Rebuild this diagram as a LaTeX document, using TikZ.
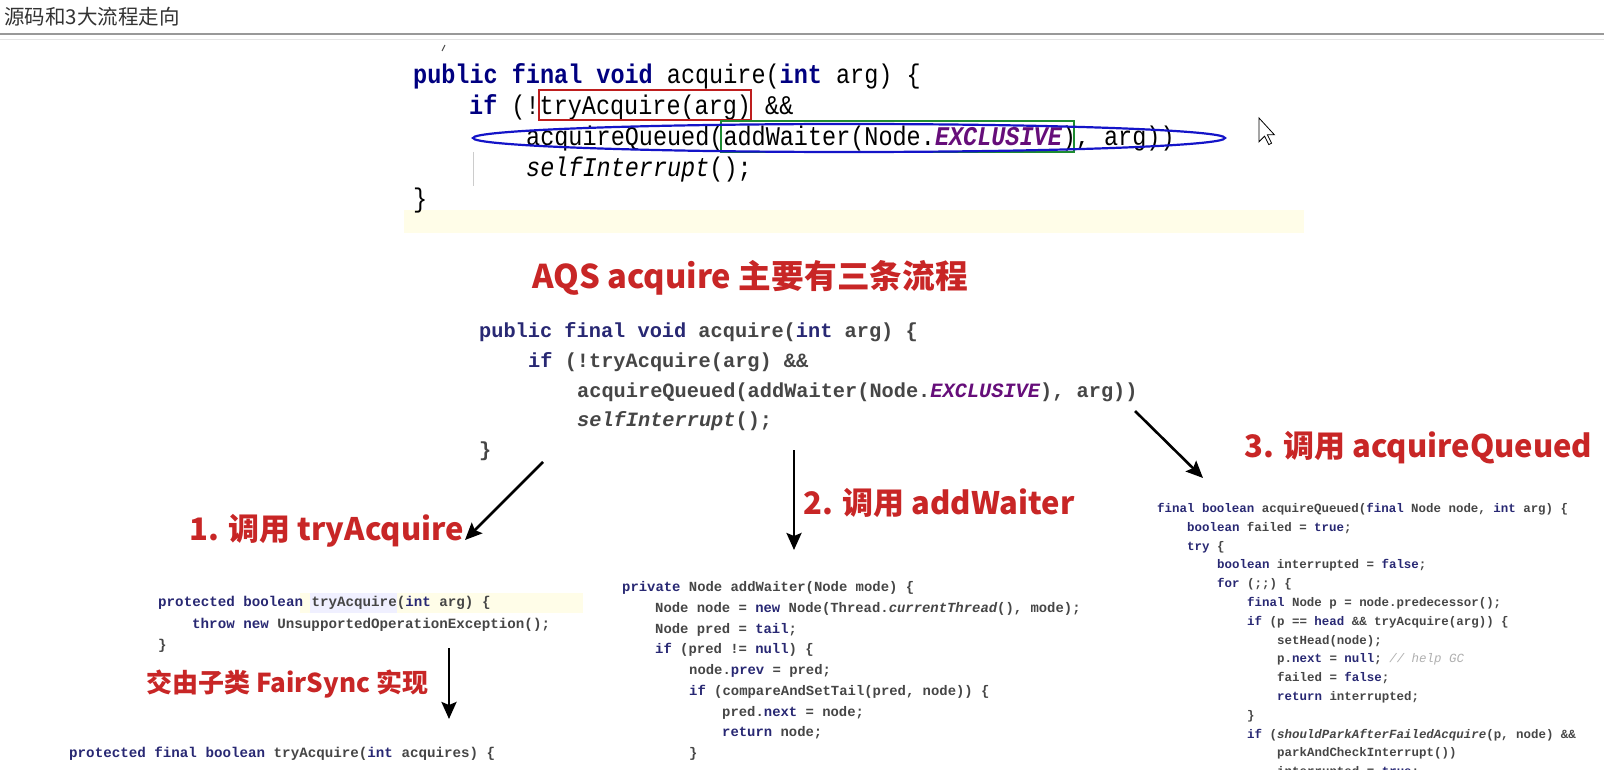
\documentclass[tikz,border=0pt]{standalone}
\usepackage{fontspec}
\usetikzlibrary{arrows.meta}
\newfontfamily\cjk{Noto Sans CJK SC}
\newfontfamily\ideMono[FakeStretch=0.87]{Liberation Mono}
\newfontfamily\slideMono{Liberation Mono}
\definecolor{idekw}{RGB}{0,0,128}
\definecolor{idecon}{RGB}{102,14,122}
\definecolor{slidekw}{RGB}{40,40,115}
\definecolor{slidetxt}{RGB}{70,70,70}
\definecolor{slidecmt}{RGB}{175,175,175}
\definecolor{flowred}{RGB}{200,38,38}
\definecolor{boxred}{RGB}{190,30,30}
\definecolor{boxgreen}{RGB}{30,140,50}
\definecolor{ringblue}{RGB}{20,20,200}
\definecolor{paleyellow}{RGB}{255,253,232}
\newcommand{\jkw}[1]{{\bfseries\color{idekw}#1}}
\newcommand{\jcon}[1]{{\bfseries\itshape\color{idecon}#1}}
\newcommand{\jit}[1]{{\itshape #1}}
\newcommand{\skw}[1]{{\color{slidekw}#1}}
\newcommand{\scmt}[1]{{\mdseries\itshape\color{slidecmt}#1}}
\tikzset{
  idecode/.style={anchor=base west,inner sep=0pt,font=\ideMono\fontsize{27}{27}\selectfont},
  bigcode/.style={anchor=base west,inner sep=0pt,text=slidetxt,font=\slideMono\bfseries\fontsize{20.3}{20.3}\selectfont},
  smallcode/.style={anchor=base west,inner sep=0pt,text=slidetxt,font=\slideMono\bfseries\fontsize{14.2}{14.2}\selectfont},
  addcode/.style={anchor=base west,inner sep=0pt,text=slidetxt,font=\slideMono\bfseries\fontsize{13.9}{13.9}\selectfont},
  queuecode/.style={anchor=base west,inner sep=0pt,text=slidetxt,font=\slideMono\bfseries\fontsize{12.45}{12.45}\selectfont},
  flowlabel/.style={anchor=base west,inner sep=0pt,text=flowred,font=\cjk\bfseries\fontsize{31}{31}\selectfont},
  flowarrow/.style={->,line width=2.6pt},
}

\begin{document}
\begin{tikzpicture}[x=1pt,y=-1pt,>={Stealth[length=17pt,width=15pt,inset=3pt]}]
\useasboundingbox (0,0) rectangle (1604,770);
\fill[white] (0,0) rectangle (1604,770);
\clip (0,0) rectangle (1604,770);
% page header
\node[anchor=base west,inner sep=0pt,text=black!80,font=\cjk\fontsize{20.5}{20.5}\selectfont] (PageTitle) at (4,25) {源码和3大流程走向};
\draw[black!40,line width=2pt] (0,34) -- (1604,34);
\draw[black!10] (0,39) -- (1604,39);
% editor snippet
\fill[paleyellow] (404,210) rectangle (1304,233);
\draw[black!20,line width=1pt] (473,152) -- (473,186);
\draw[black!70,line width=1pt] (442,51) -- (445,45);
\node[idecode] (IdeA) at (413,84) {\jkw{public} \jkw{final} \jkw{void} acquire(\jkw{int} arg) \{};
\node[idecode] (IdeB) at (469,115) {\jkw{if} (!tryAcquire(arg) \&\&};
\node[idecode] (IdeC) at (526,146) {acquireQueued(addWaiter(Node.\jcon{EXCLUSIVE}), arg))};
\node[idecode] (IdeD) at (526,177) {\jit{selfInterrupt}();};
\node[idecode] (IdeE) at (413,208) {\}};
\draw[boxred,line width=1.8pt] (539,90) rectangle (751,120);
\draw[boxgreen,line width=1.5pt] (721,121) rectangle (1074,152);
\draw[ringblue,line width=2.2pt] (849,138) ellipse [x radius=376,y radius=14];
\draw[black,fill=white,line width=0.8pt,shift={(1259,118)},scale=1.4]
  (0,0) -- (0,17) -- (4,13) -- (7,19) -- (9,18) -- (6,12) -- (11,12) -- cycle;
% slide title
\node[flowlabel,font=\cjk\bfseries\fontsize{32.7}{32.7}\selectfont] (AqsTitle) at (532,288) {AQS acquire 主要有三条流程};
\node[bigcode] (AcqA) at (479,337) {\skw{public} \skw{final} \skw{void} acquire(\skw{int} arg) \{};
\node[bigcode] (AcqB) at (528,367) {\skw{if} (!tryAcquire(arg) \&\&};
\node[bigcode] (AcqC) at (577,397) {acquireQueued(addWaiter(Node.{\itshape\color{idecon}EXCLUSIVE}), arg))};
\node[bigcode] (AcqD) at (577,426) {\jit{selfInterrupt}();};
\node[bigcode] (AcqE) at (479,456) {\}};
% three flows
\node[flowlabel] (TryLbl) at (189,540) {1. 调用 tryAcquire};
\node[flowlabel] (AddLbl) at (803,514) {2. 调用 addWaiter};
\node[flowlabel] (QueueLbl) at (1244,457) {3. 调用 acquireQueued};
\node[flowlabel,font=\cjk\bfseries\fontsize{26}{26}\selectfont] (FairLbl) at (146,692) {交由子类 FairSync 实现};
\coordinate (TryFrom) at (543,462);
\coordinate (TryTo) at (465,540);
\coordinate (AddFrom) at (794,450);
\coordinate (AddTo) at (794,550);
\coordinate (QueueFrom) at (1135,411);
\coordinate (QueueTo) at (1203,478);
\coordinate (FairFrom) at (449,648);
\coordinate (FairTo) at (449,719);
\draw[flowarrow] (TryFrom) -- (TryTo);
\draw[flowarrow] (AddFrom) -- (AddTo);
\draw[flowarrow] (QueueFrom) -- (QueueTo);
\draw[flowarrow] (FairFrom) -- (FairTo);
% tryAcquire
\fill[paleyellow] (300,593) rectangle (583,613);
\fill[blue!6] (310,593) rectangle (397,613);
\node[smallcode] (TryA) at (158,606) {\skw{protected} \skw{boolean} tryAcquire(\skw{int} arg) \{};
\node[smallcode] (TryB) at (192,628) {\skw{throw} \skw{new} UnsupportedOperationException();};
\node[smallcode] (TryC) at (158,649) {\}};
\node[smallcode] (FairA) at (69,757) {\skw{protected} \skw{final} \skw{boolean} tryAcquire(\skw{int} acquires) \{};
% addWaiter
\node[addcode] (AddA) at (622,591) {\skw{private} Node addWaiter(Node mode) \{};
\node[addcode] (AddB) at (655,612) {Node node = \skw{new} Node(Thread.\jit{currentThread}(), mode);};
\node[addcode] (AddC) at (655,633) {Node pred = \skw{tail};};
\node[addcode] (AddD) at (655,653) {\skw{if} (pred != \skw{null}) \{};
\node[addcode] (AddE) at (689,674) {node.\skw{prev} = pred;};
\node[addcode] (AddF) at (689,695) {\skw{if} (compareAndSetTail(pred, node)) \{};
\node[addcode] (AddG) at (722,716) {pred.\skw{next} = node;};
\node[addcode] (AddH) at (722,736) {\skw{return} node;};
\node[addcode] (AddI) at (689,757) {\}};
% acquireQueued
\node[queuecode] (QueueA) at (1157,512) {\skw{final} \skw{boolean} acquireQueued(\skw{final} Node node, \skw{int} arg) \{};
\node[queuecode] (QueueB) at (1187,531) {\skw{boolean} failed = \skw{true};};
\node[queuecode] (QueueC) at (1187,550) {\skw{try} \{};
\node[queuecode] (QueueD) at (1217,568) {\skw{boolean} interrupted = \skw{false};};
\node[queuecode] (QueueE) at (1217,587) {\skw{for} (;;) \{};
\node[queuecode] (QueueF) at (1247,606) {\skw{final} Node p = node.predecessor();};
\node[queuecode] (QueueG) at (1247,625) {\skw{if} (p == \skw{head} \&\& tryAcquire(arg)) \{};
\node[queuecode] (QueueH) at (1277,644) {setHead(node);};
\node[queuecode] (QueueI) at (1277,662) {p.\skw{next} = \skw{null}; \scmt{// help GC}};
\node[queuecode] (QueueJ) at (1277,681) {failed = \skw{false};};
\node[queuecode] (QueueK) at (1277,700) {\skw{return} interrupted;};
\node[queuecode] (QueueL) at (1247,719) {\}};
\node[queuecode] (QueueM) at (1247,738) {\skw{if} (\jit{shouldParkAfterFailedAcquire}(p, node) \&\&};
\node[queuecode] (QueueN) at (1277,756) {parkAndCheckInterrupt())};
\node[queuecode] (QueueO) at (1277,775) {interrupted = \skw{true};};
\end{tikzpicture}
\end{document}
